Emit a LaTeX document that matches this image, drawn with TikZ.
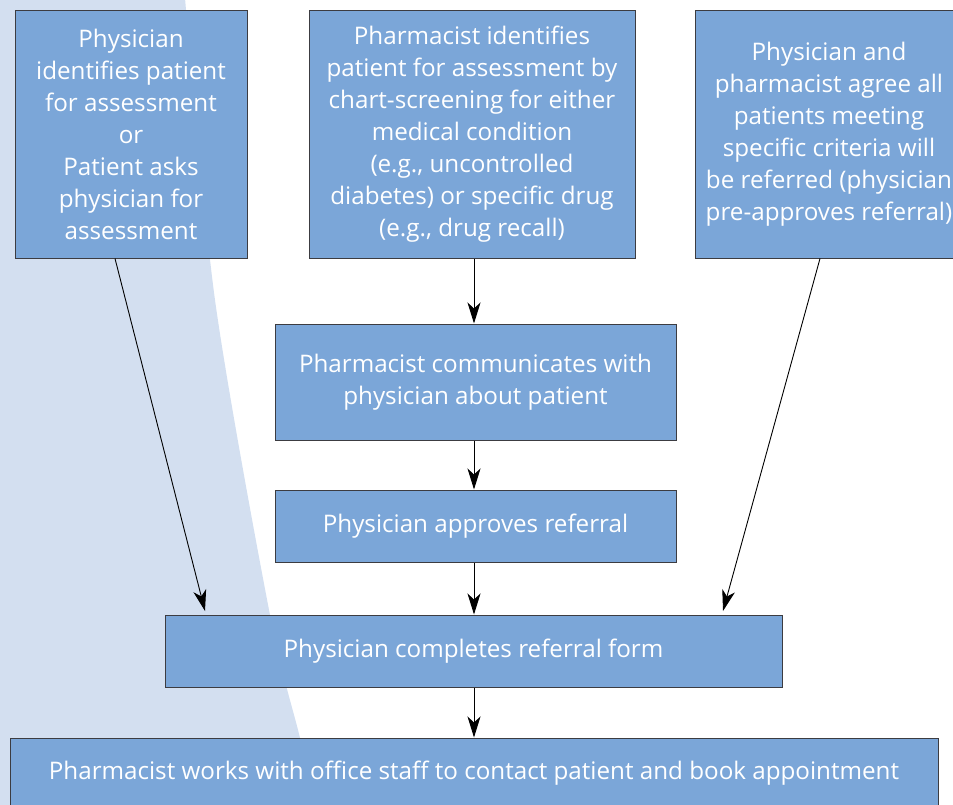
\documentclass[tikz,border=0pt]{standalone}
\usepackage{fontspec}
\setmainfont{Open Sans}
\usetikzlibrary{arrows.meta}
\definecolor{boxfill}{RGB}{123,166,216}
\definecolor{bgblue}{RGB}{211,223,240}
\definecolor{edge}{RGB}{60,60,65}
\begin{document}
\begin{tikzpicture}[x=1pt,y=-1pt,
  flowbox/.style={draw=edge, line width=1pt, fill=boxfill, text=white, align=center,
    inner sep=0pt, font=\fontsize{24.2}{32}\selectfont},
  arr/.style={-{Stealth[length=21pt,width=13pt,inset=6pt]}, line width=0.9pt, black}]
\useasboundingbox (0,0) rectangle (953,805);
\fill[bgblue] plot[smooth] coordinates {(185,-2) (215,300) (270,615) (300,738) (316,810)} -- (-2,810) -- (-2,-2) -- cycle;
\node[flowbox, minimum width=232pt, minimum height=247pt] (b1) at (131,134.5)
  {Physician\\identifies patient\\for assessment\\or\\Patient asks\\physician for\\assessment};
\node[flowbox, minimum width=326pt, minimum height=247pt] (b2) at (472,134.5)
  {Pharmacist identifies\\patient for assessment by\\chart-screening for either\\medical condition\\(e.g., uncontrolled\\diabetes) or specific drug\\(e.g., drug recall)};
\node[flowbox, minimum width=268pt, minimum height=247pt] (b3) at (829,134.5)
  {Physician and\\pharmacist agree all\\patients meeting\\specific criteria will\\be referred (physician\\pre-approves referral)};
\node[flowbox, minimum width=401pt, minimum height=116pt] (b4) at (475.5,382)
  {Pharmacist communicates with\\physician about patient};
\node[flowbox, minimum width=401pt, minimum height=72pt] (b5) at (475.5,526)
  {Physician approves referral};
\node[flowbox, minimum width=617pt, minimum height=72pt] (b6) at (473.5,651)
  {Physician completes referral form};
\node[flowbox, minimum width=928pt, minimum height=70pt] (b7) at (474,773)
  {Pharmacist works with office staff to contact patient and book appointment};
\coordinate (t1) at (205,611);
\coordinate (t3) at (723,611);
\draw[arr] (b1.south -| 115,0) -- (t1);
\draw[arr] (b3.south -| 820,0) -- (t3);
\draw[arr] (b2.south -| 474,0) -- (b4.north -| 474,0);
\draw[arr] (b4.south -| 474,0) -- (b5.north -| 474,0);
\draw[arr] (b5.south -| 474,0) -- (b6.north -| 474,0);
\draw[arr] (b6.south -| 474,0) -- (b7.north -| 474,0);
\end{tikzpicture}
\end{document}
